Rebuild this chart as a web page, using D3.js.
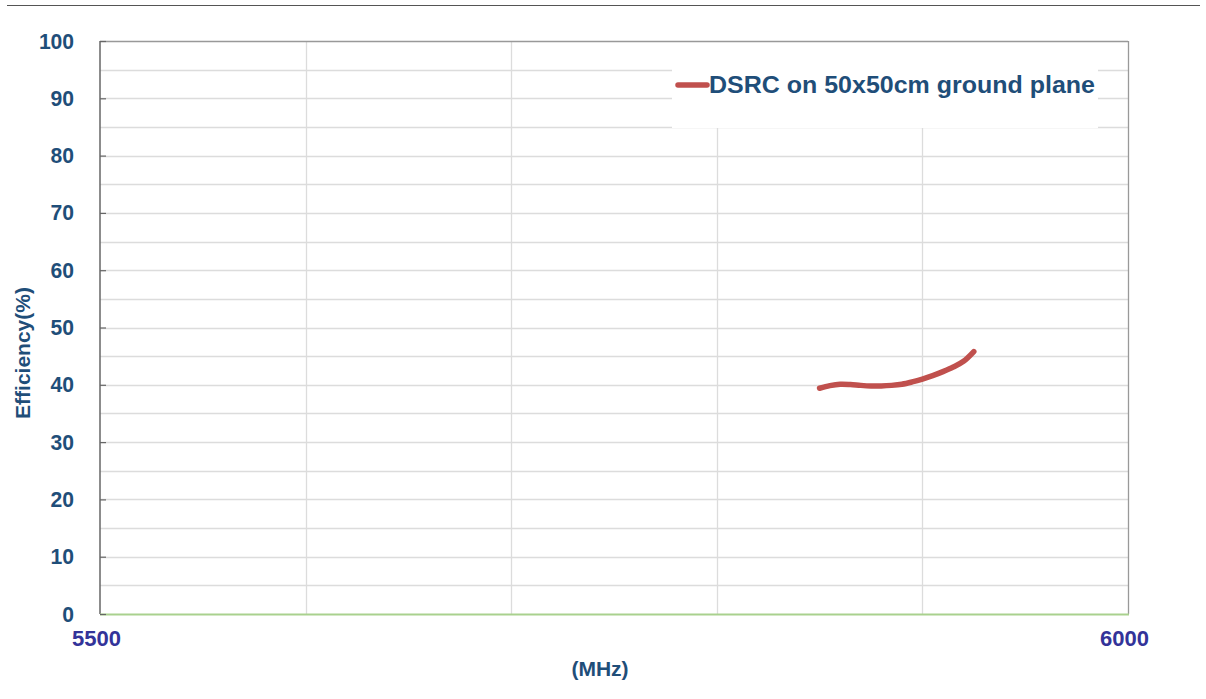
<!DOCTYPE html>
<html><head><meta charset="utf-8">
<script src="https://cdn.jsdelivr.net/npm/d3@7"></script>
<style>body{margin:0;background:#fff;}svg{display:block;font-family:"Liberation Sans",Arial,sans-serif;font-weight:bold;}</style>
</head><body>
<svg id="c" width="1206" height="699"></svg>
<script>
const freqs = [5850,5855,5860,5865,5870,5875,5880,5885,5890,5895,5900,5905,5910,5915,5920,5925];
const efficiency = [39.4,39.85,40.1,40.05,39.9,39.8,39.8,39.9,40.1,40.5,41.0,41.6,42.3,43.1,44.1,45.8];
const seriesName = "DSRC on 50x50cm ground plane";
const yTicks = [0,10,20,30,40,50,60,70,80,90,100];
const yMinor = [5,15,25,35,45,55,65,75,85,95];
const xGrid = [5600,5700,5800,5900];
const xLabels = [5500,6000];

const svg = d3.select("#c");
const L=100,R=1128,T=41,B=614;
const x = d3.scaleLinear().domain([5500,6000]).range([L,R]);
const y = d3.scaleLinear().domain([0,100]).range([B,T]);
const FONT = "Liberation Sans, Arial, sans-serif";

// top rule
svg.append("line").attr("x1",7).attr("x2",1200).attr("y1",5.5).attr("y2",5.5).attr("stroke","#555").attr("stroke-width",1.2);

const g = svg.append("g");
// gridlines
g.selectAll(".hg").data(yTicks.slice(1,-1).concat(yMinor)).join("line")
 .attr("x1",L).attr("x2",R).attr("y1",d=>Math.round(y(d))+0.5).attr("y2",d=>Math.round(y(d))+0.5)
 .attr("stroke","#dcdcdc").attr("stroke-width",1.3);
g.selectAll(".vg").data(xGrid).join("line")
 .attr("x1",d=>Math.round(x(d))+0.5).attr("x2",d=>Math.round(x(d))+0.5).attr("y1",T).attr("y2",B)
 .attr("stroke","#dcdcdc").attr("stroke-width",1.3);

// legend box
g.append("rect").attr("x",672).attr("y",42).attr("width",426).attr("height",86).attr("fill","#fff");

// frame
g.append("line").attr("x1",L).attr("x2",R).attr("y1",T+0.5).attr("y2",T+0.5).attr("stroke","#999").attr("stroke-width",1.3);
g.append("line").attr("x1",R+0.5).attr("x2",R+0.5).attr("y1",T).attr("y2",B).attr("stroke","#999").attr("stroke-width",1.3);
g.append("line").attr("x1",L).attr("x2",L).attr("y1",T).attr("y2",B).attr("stroke","#666").attr("stroke-width",1.5);
g.append("line").attr("x1",L).attr("x2",R+1).attr("y1",B+0.5).attr("y2",B+0.5).attr("stroke","#a9d18e").attr("stroke-width",2);

// y axis
const yAxis = d3.axisLeft(y).tickValues(yTicks).tickSize(-6).tickPadding(27);
const ya = svg.append("g").attr("transform",`translate(${L},0)`).call(yAxis);
ya.select(".domain").remove();
ya.selectAll(".tick line").attr("stroke","#666").attr("stroke-width",1.2);
ya.selectAll(".tick text").attr("fill","#1f4e79").attr("font-size",22).attr("font-weight","bold").attr("font-family",FONT)
  .attr("transform","scale(0.96,1)");

// x axis labels
const xAxis = d3.axisBottom(x).tickValues(xLabels).tickSize(0).tickPadding(16).tickFormat(d3.format("d"));
const xa = svg.append("g").attr("transform",`translate(0,${B})`).call(xAxis);
xa.select(".domain").remove();
xa.selectAll(".tick text").attr("fill","#333399").attr("font-size",22).attr("font-weight","bold").attr("font-family",FONT)
  .attr("textLength",49).attr("lengthAdjust","spacingAndGlyphs").attr("dx",-4);

// axis titles
svg.append("text").attr("x",600).attr("y",676).attr("text-anchor","middle").attr("fill","#1f4e79").attr("font-size",21).text("(MHz)");
svg.append("text").attr("transform","translate(30,353) rotate(-90)").attr("text-anchor","middle").attr("fill","#1f4e79").attr("font-size",21).text("Efficiency(%)");

// series
const data = freqs.map((f,i)=>({f,v:efficiency[i]}));
svg.append("path").datum(data)
 .attr("d",d3.line().x(d=>x(d.f)).y(d=>y(d.v)).curve(d3.curveCatmullRom.alpha(0.5)))
 .attr("fill","none").attr("stroke","#c0504d").attr("stroke-width",5.5).attr("stroke-linecap","round").attr("stroke-linejoin","round");

// legend
svg.append("line").attr("x1",678).attr("x2",707).attr("y1",85).attr("y2",85).attr("stroke","#c0504d").attr("stroke-width",5.5).attr("stroke-linecap","round");
svg.append("text").attr("x",709).attr("y",93).attr("fill","#1f4e79").attr("font-size",23).attr("textLength",386).attr("lengthAdjust","spacingAndGlyphs").text(seriesName);
</script>
</body></html>
